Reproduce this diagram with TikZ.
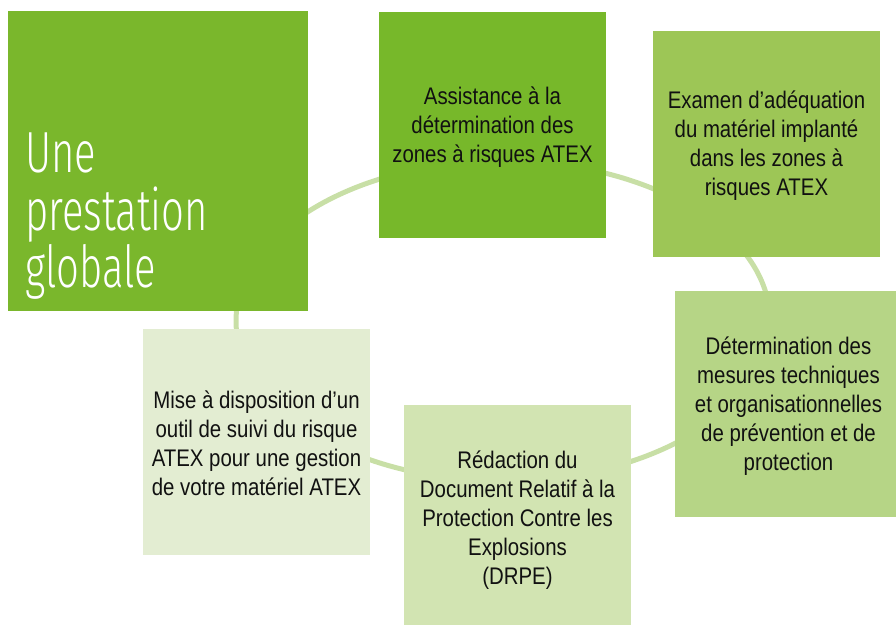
\documentclass[tikz,border=0pt]{standalone}
\usepackage{fontspec}
\setmainfont{Liberation Sans}[FakeStretch=0.85]
\newfontfamily\bigfont{Fira Sans Light}[FakeStretch=0.69]
\definecolor{cA}{HTML}{7AB72C}
\definecolor{cB}{HTML}{77B82A}
\definecolor{cC}{HTML}{9DC656}
\definecolor{cD}{HTML}{B6D586}
\definecolor{cE}{HTML}{D2E4B2}
\definecolor{cF}{HTML}{E3EDD2}
\definecolor{ring}{HTML}{C8DFA6}
\definecolor{ink}{HTML}{111111}
\tikzset{
  card/.style={rectangle, inner sep=0pt, minimum width=227pt, minimum height=226pt},
  cardtxt/.style={inner sep=0pt, align=center, text=ink, font=\fontsize{24}{29}\selectfont},
  bigtxt/.style={anchor=base west, inner sep=0pt, text=white, font=\bigfont\fontsize{58}{58}\selectfont}
}
\begin{document}
\begin{tikzpicture}[x=1pt,y=-1pt]
\useasboundingbox (0,0) rectangle (896,624);
\clip (0,0) rectangle (896,624);
\draw[ring, line width=5pt] (503,321) ellipse [x radius=267pt, y radius=160pt];
\node[rectangle, fill=cA, inner sep=0pt, minimum width=300pt, minimum height=300pt] (main) at (158,161) {};
\node[bigtxt] (t1) at (25,172) {Une};
\node[bigtxt] (t2) at (25,230) {prestation};
\node[bigtxt] (t3) at (25,287) {globale};
\node[card, fill=cB] (b2) at (492.5,124.5) {};
\node[card, fill=cC] (b3) at (766.5,144) {};
\node[card, fill=cD] (b4) at (788.5,404) {};
\node[card, fill=cE] (b5) at (517.5,517.5) {};
\node[card, fill=cF] (b6) at (256.5,442) {};
\node[cardtxt] (b2t) at ([yshift=-3pt]b2.center) {Assistance à la\\détermination des\\zones à risques ATEX};
\node[cardtxt] (b3t) at ([yshift=-2pt]b3.center) {Examen d’adéquation\\du matériel implanté\\dans les zones à\\risques ATEX};
\node[cardtxt] (b4t) at ([yshift=-2pt]b4.center) {Détermination des\\mesures techniques\\et organisationnelles\\de prévention et de\\protection};
\node[cardtxt] (b5t) at ([yshift=-3pt]b5.center) {Rédaction du\\Document Relatif à la\\Protection Contre les\\Explosions\\(DRPE)};
\node[cardtxt] (b6t) at ([yshift=-1pt]b6.center) {Mise à disposition d’un\\outil de suivi du risque\\ATEX pour une gestion\\de votre matériel ATEX};
\end{tikzpicture}
\end{document}
